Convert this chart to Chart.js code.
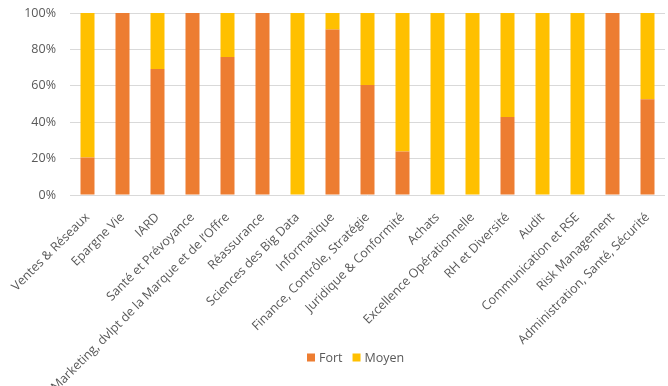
<!DOCTYPE html>
<html>
<head>
<meta charset="utf-8">
<script src="https://cdn.jsdelivr.net/npm/chart.js@4/dist/chart.umd.min.js"></script>
<style>
  html, body { margin: 0; padding: 0; background: #fff; }
  #wrap { width: 668px; height: 386px; }
</style>
</head>
<body>
<div id="wrap"><canvas id="c"></canvas></div>
<script>
// ---- data -------------------------------------------------------------------
const categories = [
  'Ventes & Réseaux', 'Epargne Vie', 'IARD', 'Santé et Prévoyance',
  "Marketing, dvlpt de la Marque et de l’Offre", 'Réassurance', 'Sciences des Big Data',
  'Informatique', 'Finance, Contrôle, Stratégie', 'Juridique & Conformité', 'Achats',
  'Excellence Opérationnelle', 'RH et Diversité', 'Audit', 'Communication et RSE',
  'Risk Management', 'Administration, Santé, Sécurité'
];
const fort  = [20.6, 100, 69.2, 100, 75.8, 100, 0, 90.9, 60.4, 23.9, 0, 0, 42.9, 0, 0, 100, 52.6];
const moyen = fort.map(v => 100 - v);   // share of the remaining staff
const yMax = 100, yStep = 20;

const TXT = '#595959';
const FONT = "'Open Sans', sans-serif";
Chart.defaults.font.family = FONT;
Chart.defaults.font.size = 12.5;
Chart.defaults.color = TXT;

// The rotated category labels run down past the legend row, so the legend
// is painted by hand over the bottom of the x-axis box.
const bottomLegend = {
  id: 'bottomLegend',
  afterDraw(chart) {
    const ctx = chart.ctx;
    const y = 358, box = 8;
    let x = 307;
    ctx.save();
    ctx.font = '12.5px ' + FONT;
    ctx.textBaseline = 'middle';
    chart.data.datasets.forEach(ds => {
      ctx.fillStyle = ds.backgroundColor;
      ctx.fillRect(x, y - box / 2 - 0.5, box, box);
      x += box + 4;
      ctx.fillStyle = TXT;
      ctx.fillText(ds.label, x, y);
      x += ctx.measureText(ds.label).width + 10;
    });
    ctx.restore();
  },
};

new Chart(document.getElementById('c').getContext('2d'), {
  type: 'bar',
  data: {
    labels: categories,
    datasets: [
      { label: 'Fort',  data: fort,  backgroundColor: '#ED7D31', barPercentage: 0.4, categoryPercentage: 1.0 },
      { label: 'Moyen', data: moyen, backgroundColor: '#FFC000', barPercentage: 0.4, categoryPercentage: 1.0 },
    ],
  },
  plugins: [bottomLegend],
  options: {
    responsive: true,
    maintainAspectRatio: false,
    animation: false,
    layout: { padding: { left: 0, right: 3, top: 13, bottom: 0 } },
    plugins: {
      tooltip: { enabled: false },
      legend: { display: false },
    },
    scales: {
      x: {
        stacked: true,
        grid: { display: false },
        border: { display: false },
        ticks: { minRotation: 45, maxRotation: 45, autoSkip: false, padding: 7, color: TXT },
        afterFit: s => { s.height = 191; },
      },
      y: {
        stacked: true,
        min: 0, max: yMax,
        // invisible tick marks keep the labels clear of the plot
        grid: { color: '#D9D9D9', tickLength: 12, tickColor: 'rgba(0,0,0,0)' },
        border: { display: false },
        ticks: { stepSize: yStep, padding: 2, color: TXT, callback: v => v + '%' },
        afterFit: s => { s.width = 70; },
      },
    },
  },
});
</script>
</body>
</html>
